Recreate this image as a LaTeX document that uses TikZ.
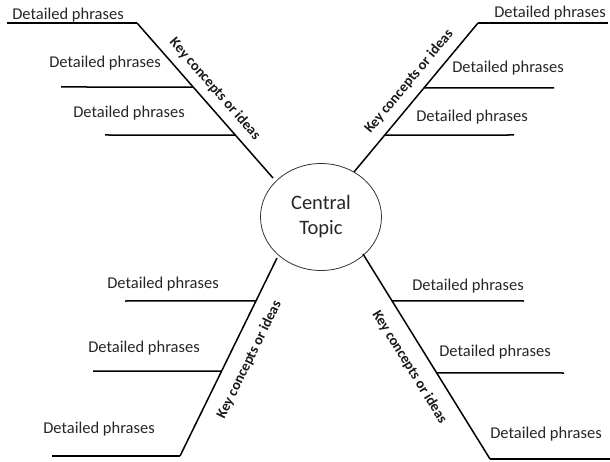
\documentclass[tikz,border=0pt]{standalone}
\usepackage{fontspec}
\setmainfont{Carlito}
\usetikzlibrary{calc,shapes.geometric}
\begin{document}
\begin{tikzpicture}[x=1pt,y=-1pt,
  branch/.style={line width=1.5pt, black},
  phrase/.style={font=\fontsize{16.5}{19}\selectfont, inner sep=0pt, text=black!85},
  keylabel/.style={font=\bfseries\fontsize{14.5}{16}\selectfont, inner sep=0pt, sloped, text=black!90},
  topic/.style={ellipse, draw=black!80, line width=0.8pt, minimum width=121pt, minimum height=107pt,
    align=center, font=\fontsize{20.5}{25}\selectfont, text=black!85}]
\useasboundingbox (0,0) rectangle (610,462);

% central topic
\node[topic] (c) at (321,217) {Central\\Topic};

% upper-left branch
\coordinate (a0) at (273,178);
\coordinate (a1) at (137,23);
\coordinate (a1e) at (7,23);
\coordinate (a2) at ($(a1)!0.413!(a0)$);
\coordinate (a2e) at (61,87);
\coordinate (a3) at ($(a1)!0.723!(a0)$);
\coordinate (a3e) at (105,135);
\draw[branch] (a1) -- node[keylabel, above=8pt, pos=0.49] {Key concepts or ideas} (a0);
\draw[branch] (a1e) -- (a1);
\draw[branch] (a2e) -- (a2);
\draw[branch] (a3e) -- (a3);
\node[phrase] (pa1) at (68,15) {Detailed phrases};
\node[phrase] (pa2) at (105,63) {Detailed phrases};
\node[phrase] (pa3) at (129,113) {Detailed phrases};

% upper-right branch
\coordinate (b0) at (354,172);
\coordinate (b1) at (478,23);
\coordinate (b1e) at (608,23);
\coordinate (b2) at ($(b1)!0.436!(b0)$);
\coordinate (b2e) at (554,88);
\coordinate (b3) at ($(b1)!0.752!(b0)$);
\coordinate (b3e) at (514,135);
\draw[branch] (b0) -- node[keylabel, above=8.5pt, pos=0.54] {Key concepts or ideas} (b1);
\draw[branch] (b1) -- (b1e);
\draw[branch] (b2) -- (b2e);
\draw[branch] (b3) -- (b3e);
\node[phrase] (pb1) at (550,13) {Detailed phrases};
\node[phrase] (pb2) at (508,68) {Detailed phrases};
\node[phrase] (pb3) at (472,117) {Detailed phrases};

% lower-left branch
\coordinate (c0) at (277,258);
\coordinate (c1) at (180,456);
\coordinate (c1e) at (52,456);
\coordinate (c2) at ($(c0)!0.217!(c1)$);
\coordinate (c2e) at (125,301);
\coordinate (c3) at ($(c0)!0.571!(c1)$);
\coordinate (c3e) at (93,371);
\draw[branch] (c1) -- node[keylabel, below=13pt, pos=0.53] {Key concepts or ideas} (c0);
\draw[branch] (c1e) -- (c1);
\draw[branch] (c2e) -- (c2);
\draw[branch] (c3e) -- (c3);
\node[phrase] (pc1) at (163,284) {Detailed phrases};
\node[phrase] (pc2) at (144,348) {Detailed phrases};
\node[phrase] (pc3) at (99,429) {Detailed phrases};

% lower-right branch
\coordinate (d0) at (363,254);
\coordinate (d1) at (490,459);
\coordinate (d1e) at (610,459);
\coordinate (d2) at ($(d0)!0.229!(d1)$);
\coordinate (d2e) at (524,301);
\coordinate (d3) at ($(d0)!0.58!(d1)$);
\coordinate (d3e) at (564,373);
\draw[branch] (d0) -- node[keylabel, below=13pt, pos=0.5] {Key concepts or ideas} (d1);
\draw[branch] (d1) -- (d1e);
\draw[branch] (d2) -- (d2e);
\draw[branch] (d3) -- (d3e);
\node[phrase] (pd1) at (468,286) {Detailed phrases};
\node[phrase] (pd2) at (495,352) {Detailed phrases};
\node[phrase] (pd3) at (546,434) {Detailed phrases};
\end{tikzpicture}
\end{document}
